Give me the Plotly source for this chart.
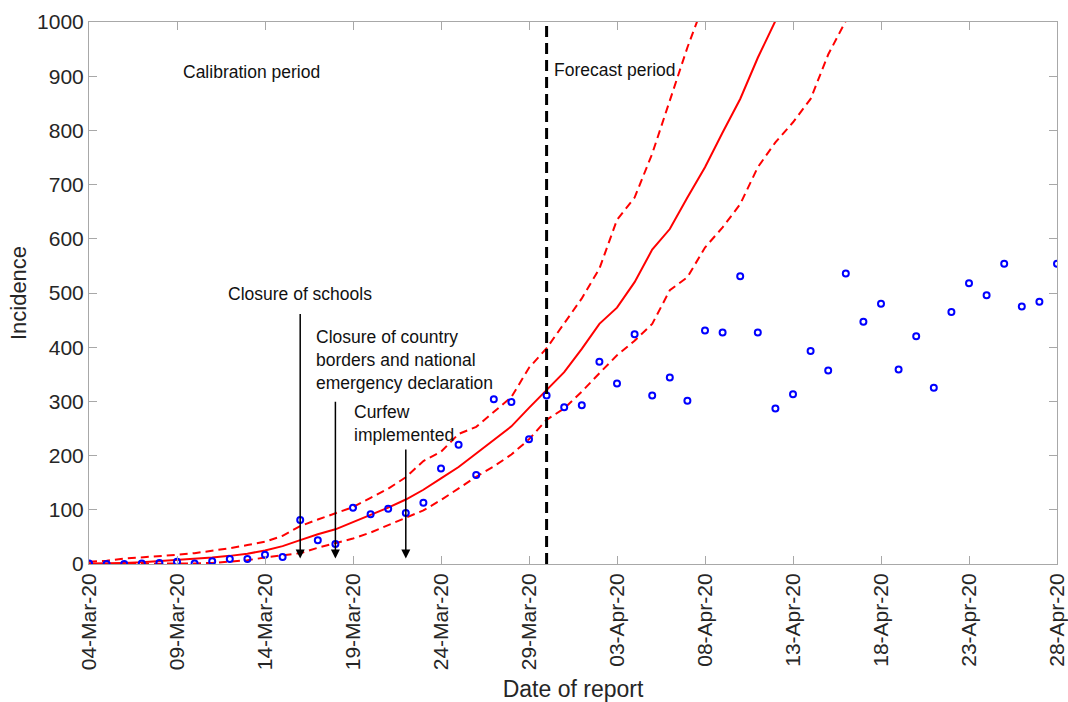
import pandas as pd
import plotly.graph_objects as go

start = "2020-03-04"

observed = [1, 0, 0, 1, 2, 4, 1, 5, 9, 9, 17, 13, 81, 44, 37, 104, 92, 102, 94, 113,
            176, 220, 164, 304, 299, 230, 311, 289, 293, 373, 333, 424, 311, 344, 301,
            431, 427, 531, 427, 287, 313, 393, 357, 536, 447, 480, 359, 420, 325, 465,
            518, 496, 554, 475, 484, 554]

model_mean = [1, 1, 2, 3, 5, 7, 9, 12, 15, 19, 25, 33, 44, 55, 64, 77, 90, 104, 119, 137,
              158, 179, 204, 229, 254, 288, 322, 354, 397, 443, 473, 520, 580, 618, 676,
              732, 796, 858, 934, 1002, 1080]

model_upper = [4, 6, 10, 12, 15, 17, 20, 24, 29, 35, 41, 52, 70, 82, 93, 105, 122, 139,
               160, 190, 207, 240, 253, 280, 308, 362, 398, 444, 490, 545, 635, 676, 757,
               855, 953, 1040]

model_lower = [0, 0, 0, 0, 0, 0, 1, 2, 4, 7, 12, 16, 20, 30, 38, 47, 58, 72, 86, 99, 118,
               139, 161, 180, 202, 230, 266, 287, 318, 352, 385, 412, 443, 505, 529, 584,
               621, 664, 732, 778, 815, 858, 940, 1002, 1080]

events = ["2020-03-16", "2020-03-18", "2020-03-22"]
event_arrow_top = [464, 302, 214]
event_labels = ["Closure of schools",
                "Closure of country<br>borders and national<br>emergency declaration",
                "Curfew<br>implemented"]
forecast_start = "2020-03-30"

FAM = "Liberation Sans, Arial, Helvetica, sans-serif"


def dates(n):
    return pd.date_range(start, periods=n, freq="D")


fig = go.Figure()
fig.add_trace(go.Scatter(x=dates(len(model_upper)), y=model_upper, mode="lines",
                         line=dict(color="#ff0000", width=2, dash="8px,5px"), showlegend=False))
fig.add_trace(go.Scatter(x=dates(len(model_lower)), y=model_lower, mode="lines",
                         line=dict(color="#ff0000", width=2, dash="8px,5px"), showlegend=False))
fig.add_trace(go.Scatter(x=dates(len(model_mean)), y=model_mean, mode="lines",
                         line=dict(color="#ff0000", width=2), showlegend=False))
fig.add_trace(go.Scatter(x=dates(len(observed)), y=observed, mode="markers",
                         marker=dict(symbol="circle-open", size=6, color="#0000ff",
                                     line=dict(width=2, color="#0000ff")),
                         showlegend=False))

fig.add_shape(type="line", x0=forecast_start, x1=forecast_start, y0=0, y1=1,
              xref="x", yref="y domain", line=dict(color="black", width=3, dash="11px,6px"))

font = dict(family=FAM, size=17.5, color="#111111")

# event arrows
for d, top in zip(events, event_arrow_top):
    fig.add_annotation(x=d, y=10, ax=d, ay=top, xref="x", yref="y", axref="x", ayref="y",
                       text="", showarrow=True, arrowhead=2, arrowsize=1.2,
                       arrowwidth=1.5, arrowcolor="black")

# labels (paper coords)
W, H = 968, 542
fig.add_annotation(x=(181 - 89) / W, y=(564 - 72) / H, xref="paper", yref="paper",
                   text="Calibration period", showarrow=False, xanchor="left",
                   yanchor="middle", font=font, align="left")
fig.add_annotation(x=(552 - 89) / W, y=(564 - 70) / H, xref="paper", yref="paper",
                   text="Forecast period", showarrow=False, xanchor="left",
                   yanchor="middle", font=font, align="left")
fig.add_annotation(x=(226 - 89) / W, y=(564 - 294) / H, xref="paper", yref="paper",
                   text=event_labels[0], showarrow=False, xanchor="left",
                   yanchor="middle", font=font, align="left")
fig.add_annotation(x=(314 - 89) / W, y=(564 - 360) / H, xref="paper", yref="paper",
                   text=event_labels[1], showarrow=False, xanchor="left",
                   yanchor="middle", font=font, align="left")
fig.add_annotation(x=(352 - 89) / W, y=(564 - 423) / H, xref="paper", yref="paper",
                   text=event_labels[2], showarrow=False, xanchor="left",
                   yanchor="middle", font=font, align="left")

axis_common = dict(showline=True, mirror="ticks", linecolor="#a8a8a8", linewidth=1,
                   ticks="inside", ticklen=8, tickcolor="#a8a8a8", showgrid=False,
                   zeroline=False, automargin=False,
                   tickfont=dict(family=FAM, size=21, color="#262626"))

fig.update_xaxes(type="date", range=["2020-03-04", "2020-04-28"],
                 tickvals=pd.date_range("2020-03-04", "2020-04-28", freq="5D"),
                 tickformat="%d-%b-%y", tickangle=-90,
                 title=dict(text="Date of report", standoff=11,
                            font=dict(family=FAM, size=23, color="#262626")),
                 **axis_common)
fig.update_yaxes(range=[0, 1000], tickvals=list(range(0, 1001, 100)),
                 title=dict(text="Incidence", standoff=4,
                            font=dict(family=FAM, size=22, color="#262626")),
                 **axis_common)

fig.update_layout(width=1068, height=702, plot_bgcolor="white", paper_bgcolor="white",
                  margin=dict(l=89, r=11, t=22, b=138))

fig.write_html("out.html")
